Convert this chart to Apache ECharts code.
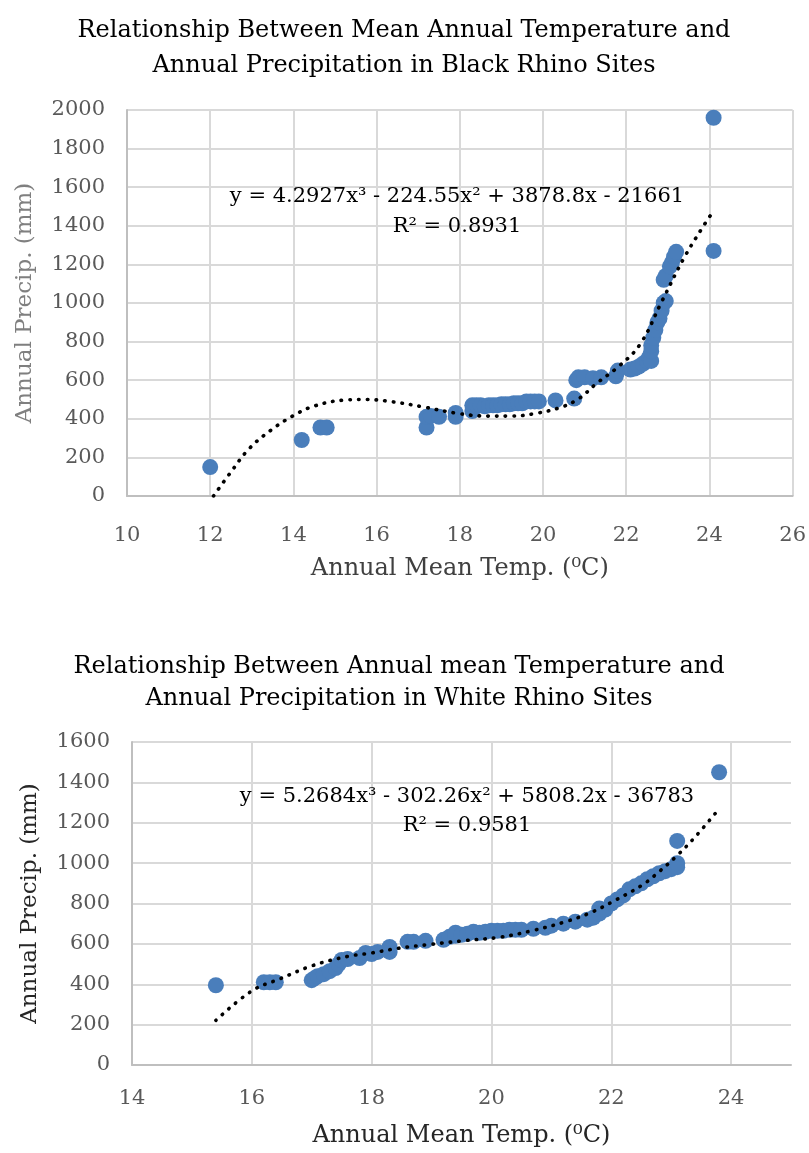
<!DOCTYPE html>
<html><head><meta charset="utf-8">
<script src="https://cdn.jsdelivr.net/npm/echarts@6/dist/echarts.min.js"></script>
<style>html,body{margin:0;padding:0;background:#fff}#c{width:809px;height:1153px}</style>
</head><body><div id="c"></div>
<script>
// ---- Black rhino sites (top chart) ----
const blackTemp   = [12.0,14.2,14.65,14.8,17.2,17.2,17.3,17.5,17.9,17.9,18.3,18.3,18.4,18.5,18.6,18.7,18.8,18.9,19.0,19.1,19.2,19.3,19.4,19.5,19.6,19.7,19.8,19.9,20.3,20.75,20.8,20.85,21.0,21.2,21.4,21.75,21.8,22.1,22.2,22.3,22.4,22.5,22.55,22.6,22.6,22.6,22.65,22.7,22.75,22.8,22.85,22.9,22.95,22.9,22.95,23.05,23.1,23.15,23.2,24.1,24.1];
const blackPrecip = [150,290,355,355,355,410,415,410,410,430,440,470,470,470,465,470,470,470,475,475,475,480,480,480,490,490,490,490,495,505,600,615,615,610,615,620,650,655,660,670,685,700,720,700,750,780,820,860,900,920,960,1000,1010,1120,1140,1190,1210,1240,1265,1270,1960];
const blackTrendTemp   = [12.08,12.47,12.94,13.46,13.98,14.5,15.23,15.76,16.38,17.11,17.95,18.68,19.2,19.83,20.46,20.87,21.29,21.81,22.33,22.86,23.38,23.8,24.06];
const blackTrendPrecip = [0,116,246,341,414,466,497,500,488,462,428,414,414,428,462,506,584,670,785,1010,1230,1380,1465];
const blackXTicks = [10,12,14,16,18,20,22,24,26];
const blackYTicks = [0,200,400,600,800,1000,1200,1400,1600,1800,2000];

// ---- White rhino sites (bottom chart) ----
const whiteTemp   = [15.4,16.2,16.3,16.4,17.0,17.05,17.1,17.2,17.3,17.4,17.45,17.5,17.6,17.8,17.9,18.0,18.1,18.3,18.3,18.6,18.7,18.9,19.2,19.3,19.4,19.4,19.5,19.6,19.7,19.8,19.9,20.0,20.1,20.2,20.3,20.4,20.5,20.7,20.9,21.0,21.2,21.4,21.6,21.7,21.8,21.8,21.9,22.0,22.1,22.2,22.3,22.4,22.5,22.6,22.7,22.8,22.9,23.0,23.1,23.1,23.1,23.8];
const whitePrecip = [395,410,410,410,420,430,440,450,465,480,500,520,525,530,555,550,560,560,585,610,610,615,620,635,640,655,645,650,660,655,660,665,665,665,670,670,670,675,680,690,700,710,720,730,750,775,770,800,820,840,870,885,900,920,935,950,960,970,980,1000,1110,1450];
const whiteTrendTemp   = [15.4,16.0,16.48,17.01,17.6,18.0,18.44,19.0,19.58,20.14,20.7,21.26,21.68,22.07,22.52,22.8,23.1,23.41,23.78];
const whiteTrendPrecip = [221,367,428,492,538,555,578,598,617,633,667,712,758,817,892,958,1038,1133,1262];
const whiteXTicks = [14,16,18,20,22,24];
const whiteXMax = 25;
const whiteYTicks = [0,200,400,600,800,1000,1200,1400,1600];

const zip = (a,b) => a.map((v,i)=>[v,b[i]]);
const FONT = 'DejaVu Serif';
const BLUE = '#4a7ebb';
const GRID = '#d9d9d9';

function xAxis(grid, ticks, max, name, nameGap, margin, color){
  const openEnd = max !== ticks[ticks.length-1];
  const lineColors = ticks.map(()=>GRID);
  if (openEnd) lineColors.push('rgba(0,0,0,0)');
  return {
    type:'value', gridIndex:grid, min:ticks[0], max:max, interval:ticks[1]-ticks[0],
    axisLine:{show:true, lineStyle:{color:'#bfbfbf', width:2}},
    axisTick:{show:false},
    splitLine:{show:true, lineStyle:{color:lineColors, width:2}},
    axisLabel:{color:'#595959', fontSize:21, fontFamily:FONT, margin:margin,
      showMaxLabel: !openEnd, formatter:v=>String(v)},
    name:name, nameLocation:'middle', nameGap:nameGap,
    nameTextStyle:{color:color, fontSize:24, fontFamily:FONT}
  };
}
function yAxis(grid, ticks, name, nameGap, color){
  return {
    type:'value', gridIndex:grid, min:ticks[0], max:ticks[ticks.length-1], interval:ticks[1]-ticks[0],
    axisLine:{show:true, lineStyle:{color:'#bfbfbf', width:2}},
    axisTick:{show:false},
    splitLine:{show:true, lineStyle:{color:GRID, width:2}},
    axisLabel:{color:'#595959', fontSize:21, fontFamily:FONT, margin:22, formatter:v=>String(v)},
    name:name, nameLocation:'middle', nameGap:nameGap,
    nameTextStyle:{color:color, fontSize:23, fontFamily:FONT}
  };
}
const dotted = {color:'#000', width:3.6, type:[0.5,8.2], cap:'round'};
const eqFont = '21px "DejaVu Serif"';

const chart = echarts.init(document.getElementById('c'), null, {renderer:'canvas'});
chart.setOption({
  backgroundColor:'#fff',
  animation:false,
  title:[
    {text:'Relationship Between Mean Annual Temperature and\nAnnual Precipitation in Black Rhino Sites',
     left:399, top:8, textAlign:'center',
     textStyle:{fontFamily:FONT, fontSize:24, fontWeight:'normal', color:'#000', lineHeight:35}},
    {text:'Relationship Between Annual mean Temperature and\nAnnual Precipitation in White Rhino Sites',
     left:394, top:646, textAlign:'center',
     textStyle:{fontFamily:FONT, fontSize:24, fontWeight:'normal', color:'#000', lineHeight:32}}
  ],
  grid:[
    {left:127, right:16, top:110, height:386},
    {left:132, right:18, top:742, height:323}
  ],
  xAxis:[
    xAxis(0, blackXTicks, blackXTicks[blackXTicks.length-1], 'Annual Mean Temp. (\u2070C)', 61, 29, '#404040'),
    xAxis(1, whiteXTicks, whiteXMax, 'Annual Mean Temp. (\u2070C)', 59, 23, '#262626')
  ],
  yAxis:[
    yAxis(0, blackYTicks, 'Annual Precip. (mm)', 90, '#7f7f7f'),
    yAxis(1, whiteYTicks, 'Annual Precip. (mm)', 90, '#262626')
  ],
  graphic:[
    {type:'text', x:457, y:197, style:{text:'y = 4.2927x\u00b3 - 224.55x\u00b2 + 3878.8x - 21661', fill:'#000', font:eqFont, align:'center', verticalAlign:'middle'}, z:100},
    {type:'text', x:457, y:227, style:{text:'R\u00b2 = 0.8931', fill:'#000', font:eqFont, align:'center', verticalAlign:'middle'}, z:100},
    {type:'text', x:467, y:797, style:{text:'y = 5.2684x\u00b3 - 302.26x\u00b2 + 5808.2x - 36783', fill:'#000', font:eqFont, align:'center', verticalAlign:'middle'}, z:100},
    {type:'text', x:467, y:826, style:{text:'R\u00b2 = 0.9581', fill:'#000', font:eqFont, align:'center', verticalAlign:'middle'}, z:100}
  ],
  series:[
    {type:'scatter', xAxisIndex:0, yAxisIndex:0, data:zip(blackTemp,blackPrecip), symbolSize:16, itemStyle:{color:BLUE, opacity:1}, z:2},
    {type:'line', xAxisIndex:0, yAxisIndex:0, data:zip(blackTrendTemp,blackTrendPrecip), showSymbol:false, symbol:'none', smooth:0.4, lineStyle:dotted, z:3},
    {type:'scatter', xAxisIndex:1, yAxisIndex:1, data:zip(whiteTemp,whitePrecip), symbolSize:16, itemStyle:{color:BLUE, opacity:1}, z:2},
    {type:'line', xAxisIndex:1, yAxisIndex:1, data:zip(whiteTrendTemp,whiteTrendPrecip), showSymbol:false, symbol:'none', smooth:0.4, lineStyle:dotted, z:3}
  ]
});
</script></body></html>
